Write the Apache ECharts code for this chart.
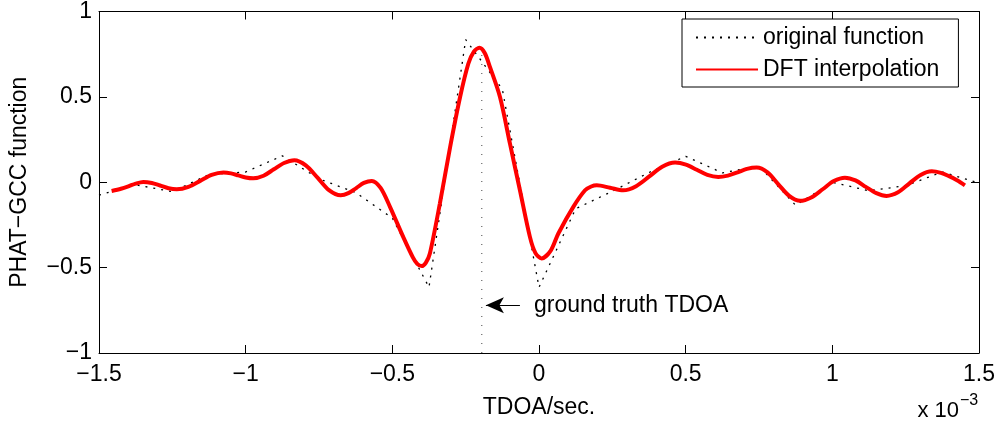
<!DOCTYPE html>
<html>
<head>
<meta charset="utf-8">
<title>PHAT-GCC function</title>
<script src="https://cdn.jsdelivr.net/npm/echarts@6/dist/echarts.min.js"></script>
<style>
  html, body { margin: 0; padding: 0; background: #ffffff; }
  #chart { width: 1002px; height: 428px; }
</style>
</head>
<body>
<div id="chart"></div>
<script>
// Time lags are in units of 1e-3 s (the axis carries an "x 10^-3" multiplier).
const sampleTimes = [
  -1.5, -1.375, -1.25, -1.125, -1.0, -0.875, -0.75, -0.625, -0.5, -0.375, -0.25, -0.125,
  0.0, 0.125, 0.25, 0.375, 0.5, 0.625, 0.75, 0.875, 1.0, 1.125, 1.25, 1.375, 1.5
];
const originalValues = [
  -0.075, -0.015, -0.055, 0.045, 0.06, 0.155, 0.02, -0.06, -0.21, -0.615, 0.835, 0.545,
  -0.615, -0.155, -0.053, 0.057, 0.152, 0.055, 0.095, -0.135, 0.0, -0.05, -0.02, 0.06, -0.005
];

const interpTimes = [
  -1.457, -1.425, -1.40, -1.375, -1.349, -1.32, -1.292, -1.263,
  -1.235, -1.195, -1.155, -1.116, -1.076, -1.05, -1.025, -1.0,
  -0.974, -0.939, -0.904, -0.869, -0.834, -0.795, -0.755, -0.716,
  -0.676, -0.65, -0.623, -0.597, -0.570, -0.54, -0.508, -0.463,
  -0.43, -0.415, -0.400, -0.386, -0.372, -0.338, -0.303, -0.269,
  -0.241, -0.222, -0.203, -0.185, -0.167, -0.133, -0.099, -0.065,
  -0.031, -0.012, 0.009, 0.04, 0.066, 0.117, 0.157, 0.178,
  0.197, 0.242, 0.287, 0.331, 0.376, 0.420, 0.464, 0.501,
  0.538, 0.574, 0.611, 0.644, 0.677, 0.709, 0.742, 0.779,
  0.816, 0.853, 0.890, 0.928, 0.967, 1.005, 1.043, 1.079,
  1.114, 1.150, 1.185, 1.224, 1.262, 1.301, 1.339, 1.370,
  1.396, 1.425, 1.452
];
const interpValues = [
  -0.051, -0.038, -0.024, -0.008, 0.002, -0.004, -0.019, -0.035,
  -0.041, -0.027, 0.008, 0.043, 0.057, 0.052, 0.040, 0.028,
  0.023, 0.038, 0.076, 0.113, 0.129, 0.099, 0.027, -0.046,
  -0.076, -0.064, -0.034, -0.004, 0.008, -0.033, -0.144, -0.320,
  -0.44, -0.478, -0.491, -0.472, -0.417, -0.125, 0.206, 0.499,
  0.694, 0.765, 0.788, 0.757, 0.674, 0.499, 0.226, -0.047,
  -0.320, -0.415, -0.446, -0.40, -0.300, -0.144, -0.047, -0.025,
  -0.018, -0.032, -0.047, -0.023, 0.034, 0.091, 0.115, 0.103,
  0.073, 0.043, 0.031, 0.039, 0.058, 0.078, 0.086, 0.058,
  -0.012, -0.080, -0.109, -0.089, -0.041, 0.007, 0.027, 0.011,
  -0.027, -0.064, -0.080, -0.059, -0.008, 0.043, 0.064, 0.055,
  0.037, 0.012, -0.018
];

const truthTdoa = -0.195;          // ground-truth delay marker
const truthSpan = [-1, 0.78];      // vertical extent of the marker
const arrowY = -0.72;              // height of the annotation arrow
const arrowFrom = -0.065;
const arrowTo = -0.181;
const annotationX = -0.017;
const annotationText = 'ground truth TDOA';

const xRange = [-1.5, 1.5], xStep = 0.5;
const yRange = [-1, 1], yStep = 0.5;

const FONT = '"Liberation Sans", Arial, Helvetica, sans-serif';
const FS = 23;

const zip = (xs, ys) => xs.map((x, i) => [x, ys[i]]);
const minusSign = v => String(v).replace('-', '\u2212');

const chart = echarts.init(document.getElementById('chart'), null, { renderer: 'canvas' });

const baseAxis = {
  type: 'value',
  splitLine: { show: false },
  axisLine: { show: true, onZero: false, lineStyle: { color: '#000', width: 1 } },
  axisTick: { show: true, inside: true, length: 8, lineStyle: { color: '#000', width: 1 } }
};

chart.setOption({
  animation: false,
  backgroundColor: '#ffffff',
  textStyle: { fontFamily: FONT, color: '#000' },
  grid: { left: 99, right: 23, top: 11, bottom: 75, containLabel: false },
  legend: {
    data: ['original function', 'DFT interpolation'],
    orient: 'vertical',
    left: 682,
    top: 19,
    padding: [7, 19, 6, 13],
    itemWidth: 62,
    itemHeight: 22,
    itemGap: 9,
    borderColor: '#000',
    borderWidth: 1,
    backgroundColor: '#ffffff',
    itemStyle: { color: 'rgba(0,0,0,0)', borderColor: 'rgba(0,0,0,0)', borderWidth: 0, opacity: 0 },
    textStyle: { fontFamily: FONT, fontSize: FS, color: '#000' }
  },
  xAxis: [
    Object.assign({}, baseAxis, {
      min: xRange[0], max: xRange[1], interval: xStep, position: 'bottom',
      axisLabel: { formatter: minusSign, fontFamily: FONT, fontSize: FS, color: '#000', margin: 10 },
      name: 'TDOA/sec.', nameLocation: 'middle', nameGap: 43,
      nameTextStyle: { fontFamily: FONT, fontSize: FS, color: '#000' }
    }),
    Object.assign({}, baseAxis, {
      min: xRange[0], max: xRange[1], interval: xStep, position: 'top',
      axisLabel: { show: false }
    })
  ],
  yAxis: [
    Object.assign({}, baseAxis, {
      min: yRange[0], max: yRange[1], interval: yStep, position: 'left',
      axisLabel: { formatter: minusSign, fontFamily: FONT, fontSize: FS, color: '#000', margin: 7 },
      name: 'PHAT\u2212GCC function', nameLocation: 'middle', nameGap: 68, nameRotate: 90,
      nameTextStyle: { fontFamily: FONT, fontSize: FS, color: '#000' }
    }),
    Object.assign({}, baseAxis, {
      min: yRange[0], max: yRange[1], interval: yStep, position: 'right',
      axisLabel: { show: false }
    })
  ],
  series: [
    {
      name: 'ground truth',
      type: 'line',
      data: [[truthTdoa, truthSpan[0]], [truthTdoa, truthSpan[1]]],
      symbol: 'none',
      z: 1,
      lineStyle: { color: '#444', width: 1, type: [1, 8] },
      markLine: {
        silent: true,
        symbol: ['none', 'arrow'],
        symbolSize: [12, 18],
        label: { show: false },
        lineStyle: { color: '#000', width: 1, type: 'solid' },
        data: [[{ coord: [arrowFrom, arrowY] }, { coord: [arrowTo, arrowY] }]]
      }
    },
    {
      name: 'original function',
      type: 'line',
      data: zip(sampleTimes, originalValues),
      symbol: 'none',
      z: 2,
      lineStyle: { color: '#000', width: 1.3, type: [2, 6] },
      itemStyle: { color: '#000' }
    },
    {
      name: 'DFT interpolation',
      type: 'line',
      data: zip(interpTimes, interpValues),
      symbol: 'none',
      smooth: 0.3,
      z: 3,
      lineStyle: { color: '#ff0000', width: 4 },
      itemStyle: { color: '#ff0000' }
    }
  ]
});

// Annotation text and axis multiplier, positioned through the grid's coordinate system.
const textPos = chart.convertToPixel({ gridIndex: 0 }, [annotationX, arrowY]);
const gridRight = chart.convertToPixel({ gridIndex: 0 }, [xRange[1], yRange[0]]);
chart.setOption({
  graphic: [
    {
      type: 'text', x: textPos[0], y: textPos[1],
      style: { text: annotationText, font: FS + 'px ' + FONT, fill: '#000', verticalAlign: 'middle', align: 'left' }
    },
    {
      type: 'text', x: gridRight[0] - 20, y: gridRight[1] + 69,
      style: { text: 'x 10', font: '22px ' + FONT, fill: '#000', verticalAlign: 'bottom', align: 'right' }
    },
    {
      type: 'text', x: gridRight[0] - 19, y: gridRight[1] + 56,
      style: { text: '\u22123', font: '16px ' + FONT, fill: '#000', verticalAlign: 'bottom', align: 'left' }
    }
  ]
});
</script>
</body>
</html>
